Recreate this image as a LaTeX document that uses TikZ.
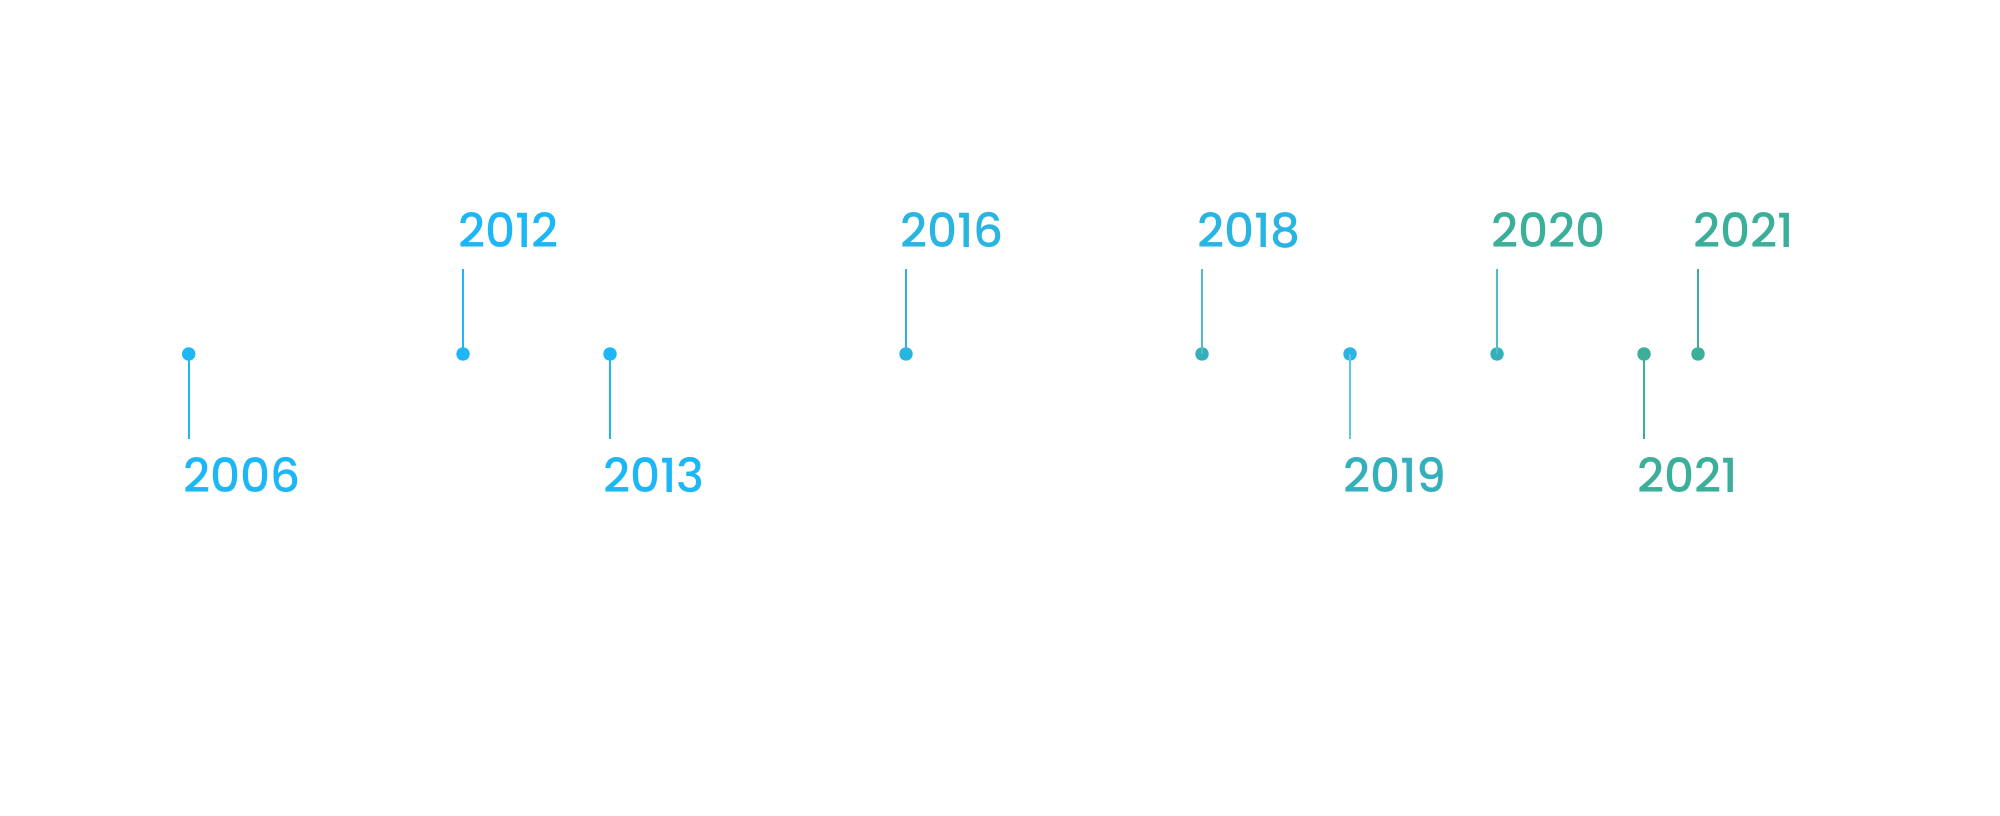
\documentclass[tikz,border=0pt]{standalone}
\usepackage{fontspec}
\setmainfont{Poppins}[UprightFont=* Medium]
\usepackage{tikz}
\usetikzlibrary{positioning}

\definecolor{skyblue}{RGB}{30,183,246}
\definecolor{midblue}{RGB}{42,180,226}
\definecolor{paleblue}{RGB}{92,200,236}
\definecolor{teal}{RGB}{51,176,188}
\definecolor{lightteal}{RGB}{77,190,196}
\definecolor{seagreen}{RGB}{59,175,153}

\begin{document}
\begin{tikzpicture}
	[ x=1pt, y=1pt,
		dot/.style={circle,fill,inner sep=0pt,minimum size=13.5pt},
		year/.style={inner sep=0pt,anchor=base west,font=\fontsize{47}{52}\selectfont},
		stemUp/.style={line width=2pt,shorten >=21pt},
		stemDown/.style={line width=2pt,shorten >=18pt}]

	\useasboundingbox (0,0) rectangle (2000,815);

	% dots on the time line
	\node[dot,skyblue]  (d2006)  at (188.7,461) {};
	\node[dot,skyblue]  (d2012)  at (463,461) {};
	\node[dot,skyblue]  (d2013)  at (610,461) {};
	\node[dot,midblue]  (d2016)  at (906,461) {};
	\node[dot,teal]     (d2018)  at (1202,461) {};
	\node[dot,midblue]  (d2019)  at (1350,461) {};
	\node[dot,teal]     (d2020)  at (1497,461) {};
	\node[dot,seagreen] (d2021a) at (1644,461) {};
	\node[dot,seagreen] (d2021b) at (1698,461) {};

	% years
	\node[year,text=skyblue]  (l2006)  at (183,323) {2006};
	\node[year,text=skyblue]  (l2012)  at (458,567) {2012};
	\node[year,text=skyblue]  (l2013)  at (603,323) {2013};
	\node[year,text=midblue]  (l2016)  at (900,567) {2016};
	\node[year,text=midblue]  (l2018)  at (1197,567) {2018};
	\node[year,text=teal]     (l2019)  at (1343,323) {2019};
	\node[year,text=seagreen] (l2020)  at (1491,567) {2020};
	\node[year,text=seagreen] (l2021a) at (1637,323) {2021};
	\node[year,text=seagreen] (l2021b) at (1693,567) {2021};

	% stems
	\draw[stemDown,skyblue]   (d2006.center)  -- (d2006 |- l2006.north);
	\draw[stemUp,skyblue]     (d2012.center)  -- (d2012 |- l2012.base);
	\draw[stemDown,skyblue]   (d2013.center)  -- (d2013 |- l2013.north);
	\draw[stemUp,midblue]     (d2016.center)  -- (d2016 |- l2016.base);
	\draw[stemUp,lightteal]   (d2018.center)  -- (d2018 |- l2018.base);
	\draw[stemDown,paleblue]  (d2019.center)  -- (d2019 |- l2019.north);
	\draw[stemUp,lightteal]   (d2020.center)  -- (d2020 |- l2020.base);
	\draw[stemDown,seagreen]  (d2021a.center) -- (d2021a |- l2021a.north);
	\draw[stemUp,seagreen]    (d2021b.center) -- (d2021b |- l2021b.base);
\end{tikzpicture}
\end{document}
